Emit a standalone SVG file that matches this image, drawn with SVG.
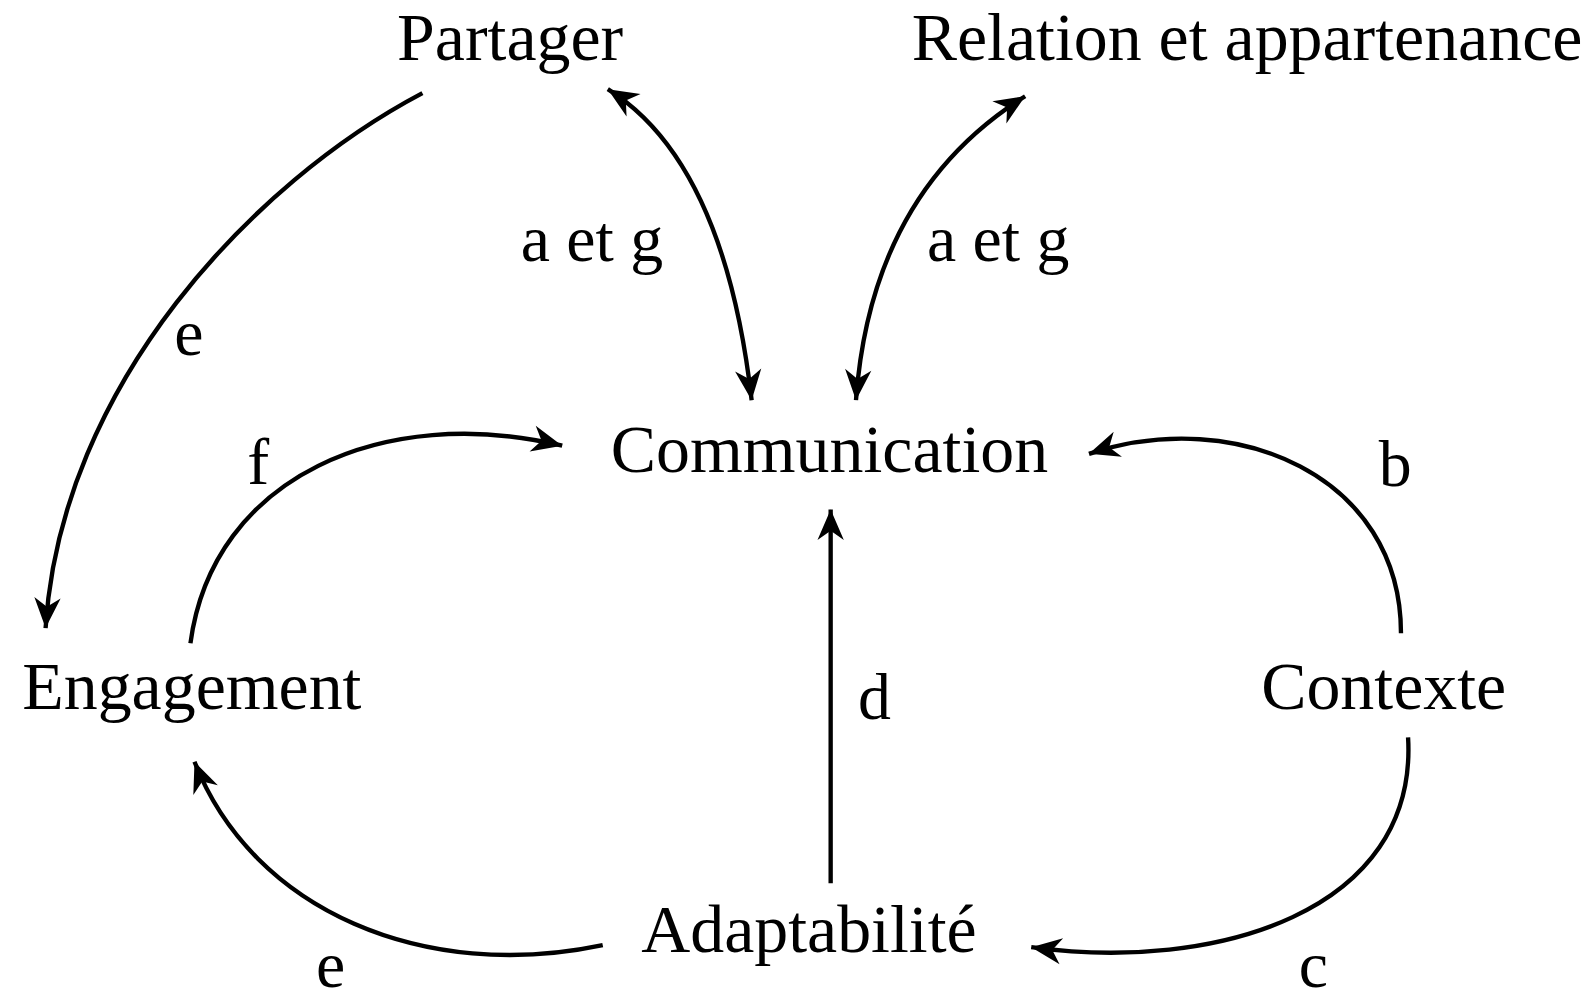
<svg xmlns="http://www.w3.org/2000/svg" width="1586" height="1002" viewBox="0 0 1586 1002">
<style>
.n{font-family:"Liberation Serif","Times New Roman",serif;font-size:67px;fill:#000}
.l{font-family:"Liberation Serif","Times New Roman",serif;font-size:65px;fill:#000}
.c{fill:none;stroke:#000;stroke-width:4.3}
</style>
<defs>
<marker id="ah" markerUnits="userSpaceOnUse" viewBox="-34 -16 36 32" refX="0" refY="0" markerWidth="36" markerHeight="32" orient="auto-start-reverse">
<path d="M0,0 L-30,-13 L-21,0 L-30,13 Z" fill="#000"/>
</marker>
</defs>
<rect width="1586" height="1002" fill="#fff"/>
<g transform="scale(1.013)">
<g id="connectors">
<path class="c" d="M600,88 Q715,160 742,395" marker-start="url(#ah)" marker-end="url(#ah)"/>
<path class="c" d="M1012,95 Q860,190 845,395" marker-start="url(#ah)" marker-end="url(#ah)"/>
<path class="c" d="M417,92 C250,180 60,380 45,620" marker-end="url(#ah)"/>
<path class="c" d="M188,635 C210,470 380,398 555,440" marker-end="url(#ah)"/>
<path class="c" d="M1383,625 C1383,470 1220,400 1075,448" marker-end="url(#ah)"/>
<path class="c" d="M1390,728 C1400,900 1200,960 1018,935" marker-end="url(#ah)"/>
<path class="c" d="M595,933 C420,970 250,900 192,752" marker-end="url(#ah)"/>
<path class="c" d="M820,872 L820,503" marker-end="url(#ah)"/>
</g>
<g id="labels">
<text class="l" x="514" y="258">a et g</text>
<text class="l" x="915" y="258">a et g</text>
<text class="l" x="172" y="350">e</text>
<text class="l" x="244" y="478">f</text>
<text class="l" x="1361" y="480">b</text>
<text class="l" x="847" y="710">d</text>
<text class="l" x="312" y="974">e</text>
<text class="l" x="1282" y="974">c</text>
</g>
<g id="partager"><text class="n" x="392" y="59">Partager</text></g>
<g id="relation"><text class="n" x="900" y="59">Relation et appartenance</text></g>
<g id="communication"><text class="n" x="603" y="466">Communication</text></g>
<g id="engagement"><text class="n" x="22" y="700">Engagement</text></g>
<g id="contexte"><text class="n" x="1245" y="700">Contexte</text></g>
<g id="adaptabilite"><text class="n" x="633" y="940">Adaptabilité</text></g>
</g>
</svg>
